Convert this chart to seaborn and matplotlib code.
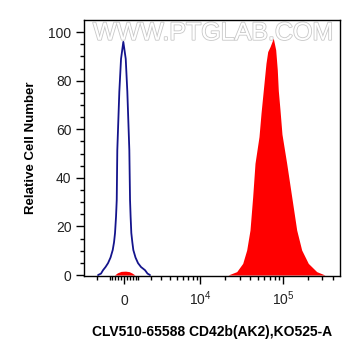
import numpy as np
import pandas as pd
import matplotlib
matplotlib.use('Agg')
import matplotlib.pyplot as plt
import matplotlib.patheffects as pe
import seaborn as sns

sns.set_theme(style="white")
plt.rcParams.update({
    'font.family': ['Liberation Sans', 'DejaVu Sans'],
    'mathtext.default': 'regular',
    'axes.edgecolor': 'black',
    'axes.linewidth': 1.0,
})

# Control histogram (blue outline)
blue_x = [-1908, -1660, -1497, -1303, -1114, -932, -775, -682, -613, -544, -495,
          -456, -318, -202, -47, 115, 223, 359, 407, 447, 495, 565, 634, 788,
          968, 1189, 1497, 1699, 1908]
blue_y = [0, 0.6, 2, 3.3, 4.9, 7.2, 10.3, 13.5, 17.3, 24, 30.9,
          51.4, 75.5, 89, 96, 89, 75.5, 51.4, 30.9, 24, 17.3, 13.5, 10.3, 7.2,
          4.9, 3.3, 2, 0.6, 0]

# Stained sample (red filled)
red_x = [21740, 27740, 32770, 36600, 40140, 43270, 46140, 51580, 54530, 58080,
         62620, 65700, 70070, 76740, 82060, 85750, 88180, 92470, 97660, 111300,
         127900, 147100, 168900, 202900, 256300, 322500]
red_y = [0, 1.4, 4.8, 10.3, 18.5, 32.3, 46, 57, 66.6, 76,
         87.2, 92, 94, 97.5, 92.7, 84.5, 76, 68, 58, 46,
         32.3, 18.5, 10.3, 4.8, 1.4, 0]

# small red events near zero
red_low_x = [-650, -450, -200, 100, 350, 550, 750]
red_low_y = [0, 0.9, 1.5, 1.6, 1.4, 0.8, 0]

x_major = [0, 1e4, 1e5]
x_major_labels = ['0', '$10^4$', '$10^5$']
x_minor = ([-2000, -1000] + list(range(-800, 0, 200)) + list(range(200, 1001, 200))
           + list(range(2000, 10000, 1000)) + list(range(20000, 100000, 10000))
           + [200000, 300000, 400000])
y_major = [0, 20, 40, 60, 80, 100]

fig = plt.figure(figsize=(3.61, 3.56), dpi=100, facecolor='white')
ax = fig.add_axes([0.2327, 0.2247, 0.7091, 0.7191])
ax.set_xscale('asinh', linear_width=2427)

ax.fill_between(red_low_x, red_low_y, color='#ff0000', lw=0)
ax.fill_between(red_x, red_y, color='#ff0000', lw=0)
sns.lineplot(x=blue_x, y=blue_y, ax=ax, color='#14148c', lw=1.3, sort=False, estimator=None)

ax.set_xlim(-3290, 489600)
ax.set_ylim(-0.4, 105)

ax.set_xticks(x_major)
ax.set_xticklabels(x_major_labels)
ax.set_xticks(x_minor, minor=True)
ax.set_yticks(y_major)
ax.set_yticks(np.arange(0, 105, 5), minor=True)

ax.tick_params(axis='both', which='major', labelsize=10, labelcolor='#222222',
               length=6, width=1, color='black')
ax.tick_params(axis='both', which='minor', length=3, width=1, color='black')
ax.tick_params(axis='x', which='both', bottom=True, pad=15)
ax.tick_params(axis='y', which='both', left=True, pad=3)
for lbl in ax.get_xticklabels():
    lbl.set_va('baseline')

ax.set_xlabel('CLV510-65588 CD42b(AK2),KO525-A', fontsize=10, fontweight='bold',
              color='black', labelpad=12)
ax.set_ylabel('Relative Cell Number', fontsize=9.5, fontweight='bold',
              color='black', labelpad=8)

# watermark
ax.text(0.035, 0.95, 'WWW.PTGLAB.COM', transform=ax.transAxes, fontsize=18,
        color='white', ha='left', va='center', zorder=0,
        path_effects=[pe.withStroke(linewidth=1.2, foreground='#c8c8c8')])

fig.savefig('out.png', dpi=100, facecolor='white')
